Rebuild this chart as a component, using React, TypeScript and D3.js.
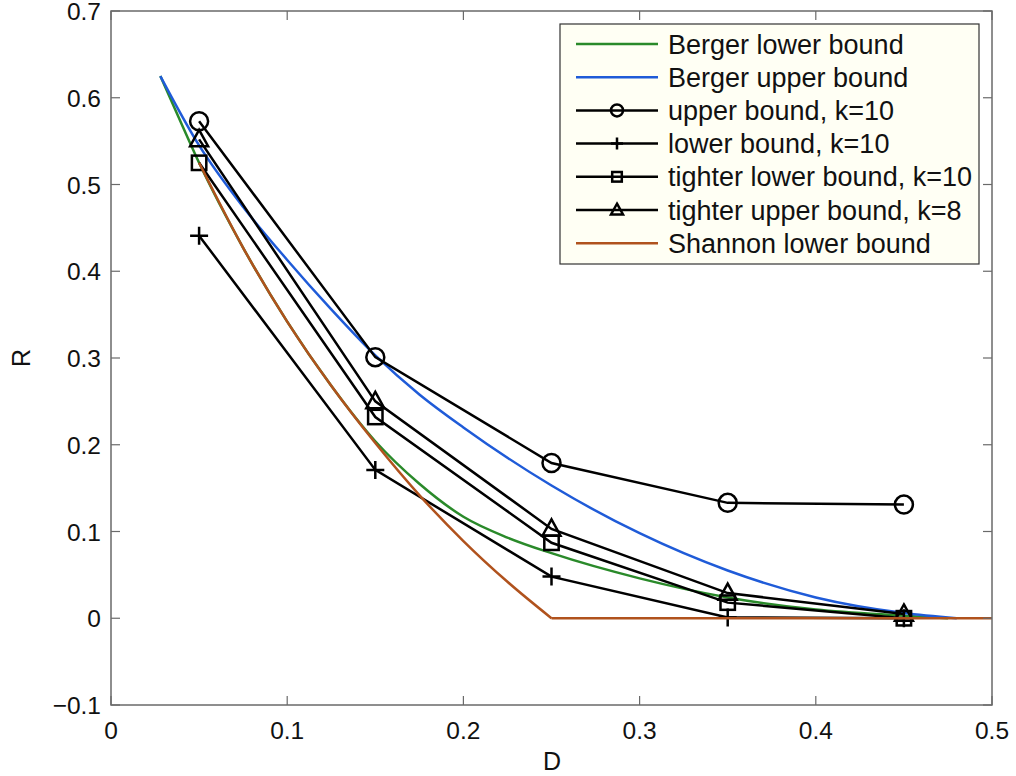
import React, { useEffect, useRef } from 'react';
import * as d3 from 'd3';

// x positions of the simulated points
const dPoints = [0.05, 0.15, 0.25, 0.35, 0.45];
const upperK10 = [0.573, 0.301, 0.179, 0.133, 0.131];
const lowerK10 = [0.441, 0.171, 0.048, 0.001, 0.0];
const tighterLowerK10 = [0.525, 0.232, 0.087, 0.018, 0.0];
const tighterUpperK8 = [0.552, 0.25, 0.103, 0.029, 0.005];

// curves
const bergerLowerD = [0.028, 0.04, 0.05, 0.075, 0.1, 0.125, 0.15, 0.175, 0.2, 0.225, 0.25, 0.3, 0.35, 0.4, 0.45, 0.475];
const bergerLowerR = [0.625, 0.57, 0.525, 0.427, 0.342, 0.268, 0.204, 0.155, 0.117, 0.093, 0.075, 0.046, 0.024, 0.01, 0.003, 0.0];
const bergerUpperD = [0.028, 0.05, 0.075, 0.1, 0.125, 0.15, 0.175, 0.2, 0.25, 0.3, 0.35, 0.4, 0.45, 0.48];
const bergerUpperR = [0.625, 0.545, 0.474, 0.413, 0.356, 0.303, 0.258, 0.22, 0.153, 0.098, 0.055, 0.024, 0.006, 0.0];
const shannonD = [0.05, 0.075, 0.1, 0.125, 0.15, 0.175, 0.2, 0.225, 0.25, 0.5];
const shannonR = [0.525, 0.427, 0.342, 0.268, 0.202, 0.142, 0.089, 0.042, 0.0, 0.0];

const xTicks = [0, 0.1, 0.2, 0.3, 0.4, 0.5];
const yTicks = [-0.1, 0, 0.1, 0.2, 0.3, 0.4, 0.5, 0.6, 0.7];

const legendLabels = [
  'Berger lower bound',
  'Berger upper bound',
  'upper bound, k=10',
  'lower bound, k=10',
  'tighter lower bound, k=10',
  'tighter upper bound, k=8',
  'Shannon lower bound',
];

const GREEN = '#2a8a2a';
const BLUE = '#1f5bd8';
const BROWN = '#b0521d';

const App = () => {
  const ref = useRef<SVGSVGElement>(null);

  useEffect(() => {
    const svg = d3.select(ref.current);
    svg.selectAll('*').remove();

    const left = 111, right = 992, top = 11, bottom = 705;
    const x = d3.scaleLinear().domain([0, 0.5]).range([left, right]);
    const y = d3.scaleLinear().domain([-0.1, 0.7]).range([bottom, top]);
    const font = 'Liberation Sans, Arial, Helvetica, sans-serif';

    const line = d3.line<[number, number]>()
      .x(d => x(d[0]))
      .y(d => y(d[1]));
    const smooth = d3.line<[number, number]>()
      .x(d => x(d[0]))
      .y(d => y(d[1]))
      .curve(d3.curveMonotoneX);

    const zip = (a: number[], b: number[]) => a.map((v, i) => [v, b[i]] as [number, number]);

    const plot = svg.append('g');

    const markerSeries = [
      { vals: upperK10, marker: 'circle' },
      { vals: lowerK10, marker: 'plus' },
      { vals: tighterLowerK10, marker: 'square' },
      { vals: tighterUpperK8, marker: 'triangle' },
    ];

    const drawMarker = (g: any, cx: number, cy: number, type: string, s: number) => {
      if (type === 'circle') {
        g.append('circle').attr('cx', cx).attr('cy', cy).attr('r', s)
          .attr('fill', 'none').attr('stroke', '#000').attr('stroke-width', 2.5);
      } else if (type === 'plus') {
        g.append('path')
          .attr('d', `M${cx - s},${cy}H${cx + s}M${cx},${cy - s}V${cy + s}`)
          .attr('stroke', '#000').attr('stroke-width', 2.5).attr('fill', 'none');
      } else if (type === 'square') {
        g.append('rect').attr('x', cx - s * 0.8).attr('y', cy - s * 0.8)
          .attr('width', s * 1.6).attr('height', s * 1.6)
          .attr('fill', 'none').attr('stroke', '#000').attr('stroke-width', 2.5);
      } else {
        g.append('path')
          .attr('d', `M${cx},${cy - s * 1.05}L${cx + s},${cy + s * 0.75}L${cx - s},${cy + s * 0.75}Z`)
          .attr('fill', 'none').attr('stroke', '#000').attr('stroke-width', 2.5);
      }
    };

    const colored = [
      { d: bergerLowerD, r: bergerLowerR, color: GREEN },
      { d: bergerUpperD, r: bergerUpperR, color: BLUE },
    ];
    colored.forEach(c => {
      plot.append('path').attr('d', smooth(zip(c.d, c.r)))
        .attr('fill', 'none').attr('stroke', c.color).attr('stroke-width', 2.5);
    });

    markerSeries.forEach(s => {
      plot.append('path').attr('d', line(zip(dPoints, s.vals)))
        .attr('fill', 'none').attr('stroke', '#000').attr('stroke-width', 2.5);
      dPoints.forEach((dv, i) => drawMarker(plot, x(dv), y(s.vals[i]), s.marker, 9));
    });

    // Shannon bound: smooth part down to zero, then flat
    const sh = zip(shannonD, shannonR);
    const kink = sh.findIndex(p => p[1] === 0);
    plot.append('path').attr('d', smooth(sh.slice(0, kink + 1)) + line(sh.slice(kink))!)
      .attr('fill', 'none').attr('stroke', BROWN).attr('stroke-width', 2.5)
      .attr('stroke-linejoin', 'round');

    // axes box with inward ticks
    const axisColor = '#6a6a6a';
    svg.append('rect').attr('x', left).attr('y', top).attr('width', right - left).attr('height', bottom - top)
      .attr('fill', 'none').attr('stroke', axisColor).attr('stroke-width', 1.5);
    const tl = 9;
    xTicks.forEach(t => {
      svg.append('line').attr('x1', x(t)).attr('x2', x(t)).attr('y1', bottom).attr('y2', bottom - tl)
        .attr('stroke', axisColor).attr('stroke-width', 1.2);
      svg.append('line').attr('x1', x(t)).attr('x2', x(t)).attr('y1', top).attr('y2', top + tl)
        .attr('stroke', axisColor).attr('stroke-width', 1.2);
      svg.append('text').attr('x', x(t)).attr('y', bottom + 34).attr('text-anchor', 'middle')
        .attr('font-family', font).attr('font-size', 24.5).attr('fill', '#111')
        .text(t === 0 ? '0' : d3.format('.1f')(t));
    });
    yTicks.forEach(t => {
      svg.append('line').attr('x1', left).attr('x2', left + tl).attr('y1', y(t)).attr('y2', y(t))
        .attr('stroke', axisColor).attr('stroke-width', 1.2);
      svg.append('line').attr('x1', right).attr('x2', right - tl).attr('y1', y(t)).attr('y2', y(t))
        .attr('stroke', axisColor).attr('stroke-width', 1.2);
      svg.append('text').attr('x', left - 10).attr('y', y(t) + 9).attr('text-anchor', 'end')
        .attr('font-family', font).attr('font-size', 24.5).attr('fill', '#111')
        .text(Math.abs(t) < 1e-9 ? '0' : d3.format('.1f')(t).replace('-', '\u2212'));
    });

    svg.append('text').attr('x', 552).attr('y', 770).attr('text-anchor', 'middle')
      .attr('font-family', font).attr('font-size', 25).attr('fill', '#111').text('D');
    svg.append('text').attr('transform', 'translate(30,358) rotate(-90)').attr('text-anchor', 'middle')
      .attr('font-family', font).attr('font-size', 25).attr('fill', '#111').text('R');

    // legend
    const lg = svg.append('g');
    lg.append('rect').attr('x', 560).attr('y', 24).attr('width', 419).attr('height', 240)
      .attr('fill', '#fffff4').attr('stroke', '#333').attr('stroke-width', 1.2);
    const legendStyle = [
      { color: GREEN, marker: '' },
      { color: BLUE, marker: '' },
      { color: '#000', marker: 'circle' },
      { color: '#000', marker: 'plus' },
      { color: '#000', marker: 'square' },
      { color: '#000', marker: 'triangle' },
      { color: BROWN, marker: '' },
    ];
    legendLabels.forEach((lab, i) => {
      const ly = 44 + i * 33.2;
      lg.append('line').attr('x1', 576).attr('x2', 658).attr('y1', ly).attr('y2', ly)
        .attr('stroke', legendStyle[i].color).attr('stroke-width', 2.5);
      if (legendStyle[i].marker) drawMarker(lg, 617, ly, legendStyle[i].marker, 6);
      lg.append('text').attr('x', 668).attr('y', ly + 9.5).attr('font-family', font)
        .attr('font-size', 27).attr('fill', '#111').text(lab);
    });
  }, []);

  return (
    <svg ref={ref} width={1016} height={776} style={{ position: 'absolute', left: 0, top: 0, background: '#fff' }} />
  );
};

export default App;
